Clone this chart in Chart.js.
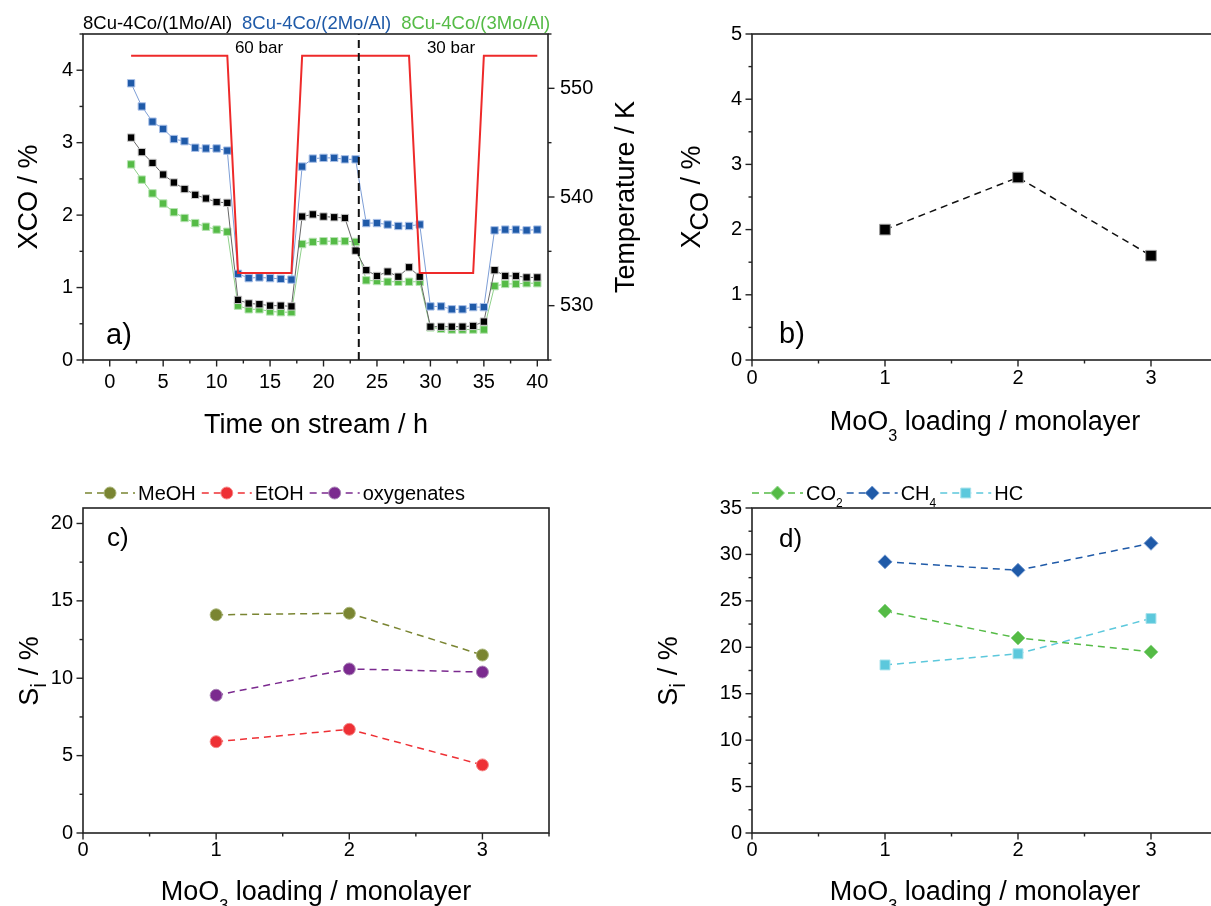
<!DOCTYPE html>
<html>
<head>
<meta charset="utf-8">
<script src="https://cdn.jsdelivr.net/npm/chart.js@4.4.0/dist/chart.umd.min.js"></script>
<style>
html, body { margin:0; padding:0; background:#fff; overflow:hidden; width:1211px; height:906px; position:relative; }
canvas { position:absolute; }
</style>
</head>
<body>
<canvas id="chartA" width="650" height="453" style="left:0;top:0"></canvas>
<canvas id="chartB" width="600" height="453" style="left:640px;top:0"></canvas>
<canvas id="chartC" width="640" height="453" style="left:0;top:453px"></canvas>
<canvas id="chartD" width="600" height="453" style="left:640px;top:453px"></canvas>
<script>
/*********************** data ***********************/
// a) conversion vs time on stream
const timeH = [2,3,4,5,6,7,8,9,10,11, 12,13,14,15,16,17, 18,19,20,21,22,23, 24,25,26,27,28,29, 30,31,32,33,34,35, 36,37,38,39,40];
const xco1Mo = [3.07,2.87,2.72,2.56,2.45,2.36,2.28,2.23,2.18,2.17, 0.83,0.78,0.77,0.75,0.75,0.74, 1.98,2.01,1.98,1.97,1.96,1.51, 1.24,1.16,1.22,1.15,1.28,1.15, 0.46,0.46,0.46,0.46,0.47,0.53, 1.24,1.16,1.16,1.14,1.14];
const xco2Mo = [3.82,3.50,3.29,3.19,3.05,3.02,2.93,2.92,2.92,2.89, 1.19,1.13,1.14,1.13,1.12,1.11, 2.67,2.78,2.79,2.79,2.77,2.77, 1.89,1.89,1.87,1.85,1.85,1.87, 0.74,0.74,0.70,0.70,0.73,0.73, 1.79,1.80,1.80,1.79,1.80];
const xco3Mo = [2.70,2.49,2.30,2.16,2.04,1.96,1.89,1.84,1.80,1.77, 0.75,0.70,0.70,0.67,0.66,0.66, 1.60,1.63,1.64,1.64,1.64,1.63, 1.10,1.09,1.08,1.08,1.08,1.08, 0.45,0.43,0.42,0.42,0.42,0.42, 1.02,1.05,1.05,1.06,1.06];
const tempTime = [2,11,12,17,18,28,29,34,35,40];
const tempK = [553,553,533,533,553,553,533,533,553,553];
const pressureSwitchH = 23.3;   // 60 bar -> 30 bar
const timeTicks = [0,5,10,15,20,25,30,35,40];
const xcoTicksA = [0,1,2,3,4];
const tempTicks = [530,540,550];

// b) - d) vs MoO3 loading
const moLoading = [1,2,3];
const loadingTicks = [0,1,2,3];
const xcoLoading = [2.0,2.8,1.6];
const xcoTicksB = [0,1,2,3,4,5];
const selMeOH = [14.1,14.2,11.5];
const selEtOH = [5.9,6.7,4.4];
const selOxy = [8.9,10.6,10.4];
const selTicksC = [0,5,10,15,20];
const selCO2 = [23.9,21.0,19.5];
const selCH4 = [29.2,28.3,31.2];
const selHC = [18.1,19.3,23.1];
const selTicksD = [0,5,10,15,20,25,30,35];

/*********************** helpers ***********************/
const FONT = "'Liberation Sans', Arial, Helvetica, sans-serif";
Chart.defaults.font.family = FONT;
Chart.defaults.color = '#000';

const pts = (xs, ys) => xs.map((x, i) => ({x: x, y: ys[i]}));
const splitSub = s => {
  const m = s.match(/^(.*?[A-Za-z])(\d+)$/);
  return m ? [{t: m[1]}, {t: m[2], sub: true}] : [{t: s}];
};

// draws text made of parts (some subscripted); y = middle of capitals
function drawParts(ctx, parts, x, y, o) {
  const size = o.size, subScale = o.subScale || 0.7, subShift = o.subShift || 0.3;
  ctx.save();
  ctx.translate(x, y);
  if (o.rotate) ctx.rotate(-Math.PI / 2);
  ctx.fillStyle = o.color || '#000';
  ctx.textBaseline = 'alphabetic';
  ctx.textAlign = 'left';
  const fnt = p => (p.sub ? size * subScale : size) + 'px ' + FONT;
  let total = 0;
  parts.forEach(p => { ctx.font = fnt(p); total += ctx.measureText(p.t).width; });
  let cx = o.align === 'left' ? 0 : -total / 2;
  const base = size * 0.36;
  parts.forEach(p => {
    ctx.font = fnt(p);
    ctx.fillText(p.t, cx, base + (p.sub ? size * subShift : 0));
    cx += ctx.measureText(p.t).width;
  });
  ctx.restore();
  return x + total;
}

const textPlugin = {
  id: 'texts',
  afterDraw(chart, args, opts) {
    (opts.items || []).forEach(it => drawParts(chart.ctx, it.parts, it.x, it.y, it));
  }
};

// box + outward major/minor tick marks
const frame = {
  id: 'frame',
  afterDatasetsDraw(chart, args, opts) {
    const ctx = chart.ctx, a = chart.chartArea;
    ctx.save();
    ctx.strokeStyle = '#222';
    ctx.lineWidth = 1.6;
    ctx.strokeRect(a.left, a.top, a.right - a.left, a.bottom - a.top);
    ctx.lineWidth = 1.4;
    (opts.axes || []).forEach(ax => {
      const s = chart.scales[ax.id];
      const majors = s.ticks.map(t => t.value);
      for (let v = Math.ceil(s.min / ax.minor - 1e-9) * ax.minor; v <= s.max + 1e-9; v += ax.minor) {
        const major = majors.some(m => Math.abs(m - v) < 1e-6);
        const len = major ? 6.5 : 3.5;
        const p = s.getPixelForValue(v);
        ctx.beginPath();
        if (s.position === 'bottom') { ctx.moveTo(p, a.bottom); ctx.lineTo(p, a.bottom + len); }
        else if (s.position === 'left') { ctx.moveTo(a.left, p); ctx.lineTo(a.left - len, p); }
        else { ctx.moveTo(a.right, p); ctx.lineTo(a.right + len, p); }
        ctx.stroke();
      }
    });
    ctx.restore();
  }
};

// legend drawn as "- -o- - label" or text only
const lineLegend = {
  id: 'lineLegend',
  afterDraw(chart, args, opts) {
    if (!opts.show) return;
    const ctx = chart.ctx;
    let x = opts.x;
    chart.data.datasets.forEach(ds => {
      if (!ds.label) return;
      if (opts.textOnly) {
        x = drawParts(ctx, [{t: ds.label}], x, opts.y, {size: opts.size, align: 'left', color: ds.pointBackgroundColor}) + opts.gap;
        return;
      }
      ctx.save();
      ctx.strokeStyle = ds.borderColor;
      ctx.lineWidth = ds.borderWidth;
      ctx.setLineDash(ds.borderDash || []);
      ctx.beginPath();
      ctx.moveTo(x, opts.y);
      ctx.lineTo(x + opts.lineLen, opts.y);
      ctx.stroke();
      ctx.setLineDash([]);
      ctx.fillStyle = ds.pointBackgroundColor;
      ctx.strokeStyle = ds.pointBorderColor;
      ctx.lineWidth = ds.pointBorderWidth || 0;
      Chart.helpers.drawPoint(ctx, {pointStyle: ds.pointStyle, radius: ds.pointRadius, rotation: 0, borderWidth: ds.pointBorderWidth || 0}, x + opts.lineLen / 2, opts.y);
      ctx.restore();
      x += opts.lineLen + 3;
      x = drawParts(ctx, splitSub(ds.label), x, opts.y, {size: opts.size, align: 'left', subShift: 0.35, subScale: 0.6}) + opts.gap;
    });
  }
};

Chart.register(textPlugin, frame, lineLegend);

const setTicks = list => s => { s.ticks = list.map(v => ({value: v})); };
const fixW = w => s => { s.width = w; };
const fixH = h => s => { s.height = h; };
const noGrid = {display: false, drawTicks: false};
const noBorder = {display: false};
const tickFont = {size: 20};

/*********************** a) ***********************/
new Chart(document.getElementById('chartA'), {
  type: 'line',
  data: {
    datasets: [{
      label: '8Cu-4Co/(1Mo/Al)',
      data: pts(timeH, xco1Mo),
      borderColor: '#666', borderWidth: 1,
      pointStyle: 'rect', pointRadius: 5.2,
      pointBackgroundColor: '#000', pointBorderColor: '#ccc', pointBorderWidth: 1,
      yAxisID: 'y', order: 3
    }, {
      label: '8Cu-4Co/(2Mo/Al)',
      data: pts(timeH, xco2Mo),
      borderColor: '#7d9ed6', borderWidth: 1,
      pointStyle: 'rect', pointRadius: 5.2,
      pointBackgroundColor: '#1f5aa8', pointBorderColor: '#a9c0e8', pointBorderWidth: 1,
      yAxisID: 'y', order: 2
    }, {
      label: '8Cu-4Co/(3Mo/Al)',
      data: pts(timeH, xco3Mo),
      borderColor: '#8fd18a', borderWidth: 1,
      pointStyle: 'rect', pointRadius: 5.2,
      pointBackgroundColor: '#55bb46', pointBorderColor: '#b5e3b1', pointBorderWidth: 1,
      yAxisID: 'y', order: 4
    }, {
      data: pts(tempTime, tempK),
      borderColor: '#ee2a2a', borderWidth: 2, pointRadius: 0,
      yAxisID: 'y2', order: 1
    }, {
      data: [{x: pressureSwitchH, y: 0}, {x: pressureSwitchH, y: 4.5}],
      borderColor: '#111', borderWidth: 2, borderDash: [8, 5], pointRadius: 0,
      yAxisID: 'y', order: 0
    }]
  },
  options: {
    responsive: false, animation: false,
    layout: {padding: {top: 34, left: 0, right: 0, bottom: 0}},
    scales: {
      x: {type: 'linear', min: -2.5, max: 41, grid: noGrid, border: noBorder,
          afterBuildTicks: setTicks(timeTicks), afterFit: fixH(453 - 360),
          ticks: {font: tickFont, padding: 10, maxRotation: 0}},
      y: {type: 'linear', position: 'left', min: 0, max: 4.5, grid: noGrid, border: noBorder,
          afterBuildTicks: setTicks(xcoTicksA), afterFit: fixW(83),
          ticks: {font: tickFont, padding: 10}},
      y2: {type: 'linear', position: 'right', min: 525, max: 555, grid: noGrid, border: noBorder,
          afterBuildTicks: setTicks(tempTicks), afterFit: fixW(650 - 548),
          ticks: {font: tickFont, padding: 12}}
    },
    plugins: {
      legend: {display: false}, tooltip: {enabled: false},
      lineLegend: {show: true, textOnly: true, x: 83, y: 22, size: 18.5, gap: 10},
      frame: {axes: [{id: 'x', minor: 2.5}, {id: 'y', minor: 0.5}, {id: 'y2', minor: 5}]},
      texts: {items: [
        {parts: [{t: '60 bar'}], x: 259, y: 47, size: 17},
        {parts: [{t: '30 bar'}], x: 451, y: 47, size: 17},
        {parts: [{t: 'a)'}], x: 106, y: 334, size: 29, align: 'left'},
        {parts: [{t: 'XCO / %'}], x: 27, y: 197, size: 27, rotate: true},
        {parts: [{t: 'Temperature / K'}], x: 624, y: 197, size: 27, rotate: true},
        {parts: [{t: 'Time on stream / h'}], x: 316, y: 423, size: 27}
      ]}
    }
  }
});

/*********************** b) ***********************/
const dashBlack = {borderColor: '#111', borderWidth: 1.5, borderDash: [7, 5]};
new Chart(document.getElementById('chartB'), {
  type: 'line',
  data: {
    datasets: [Object.assign({
      data: pts(moLoading, xcoLoading),
      pointStyle: 'rect', pointRadius: 7.5,
      pointBackgroundColor: '#000', pointBorderColor: '#999', pointBorderWidth: 1
    }, dashBlack)]
  },
  options: {
    responsive: false, animation: false,
    layout: {padding: {top: 34, left: 0, right: 600 - 577.5, bottom: 0}},
    scales: {
      x: {type: 'linear', min: 0, max: 3.5, grid: noGrid, border: noBorder,
          afterBuildTicks: setTicks(loadingTicks), afterFit: fixH(453 - 360),
          ticks: {font: tickFont, padding: 6, maxRotation: 0}},
      y: {type: 'linear', min: 0, max: 5, grid: noGrid, border: noBorder,
          afterBuildTicks: setTicks(xcoTicksB), afterFit: fixW(112),
          ticks: {font: tickFont, padding: 10}}
    },
    plugins: {
      legend: {display: false}, tooltip: {enabled: false},
      frame: {axes: [{id: 'x', minor: 0.5}, {id: 'y', minor: 0.5}]},
      texts: {items: [
        {parts: [{t: 'b)'}], x: 139, y: 333, size: 29, align: 'left'},
        {parts: [{t: 'X'}, {t: 'CO', sub: true}, {t: ' / %'}], x: 50, y: 197, size: 27, rotate: true, subScale: 0.95, subShift: 0.3},
        {parts: [{t: 'MoO'}, {t: '3', sub: true}, {t: ' loading / monolayer'}], x: 345, y: 420, size: 27, subScale: 0.6, subShift: 0.4}
      ]}
    }
  }
});

/*********************** c) ***********************/
const dashed = {borderWidth: 1.5, borderDash: [7, 5], pointRadius: 6, pointBorderWidth: 1};
new Chart(document.getElementById('chartC'), {
  type: 'line',
  data: {
    datasets: [
      Object.assign({label: 'MeOH', data: pts(moLoading, selMeOH), borderColor: '#7a8532', pointBackgroundColor: '#7a8532', pointBorderColor: '#a9b57a', pointStyle: 'circle'}, dashed),
      Object.assign({label: 'EtOH', data: pts(moLoading, selEtOH), borderColor: '#ee3035', pointBackgroundColor: '#ee3035', pointBorderColor: '#f58a8a', pointStyle: 'circle'}, dashed),
      Object.assign({label: 'oxygenates', data: pts(moLoading, selOxy), borderColor: '#7b2a8f', pointBackgroundColor: '#7b2a8f', pointBorderColor: '#a985b6', pointStyle: 'circle'}, dashed)
    ]
  },
  options: {
    responsive: false, animation: false,
    layout: {padding: {top: 55, left: 0, right: 640 - 549, bottom: 0}},
    scales: {
      x: {type: 'linear', min: 0, max: 3.5, grid: noGrid, border: noBorder,
          afterBuildTicks: setTicks(loadingTicks), afterFit: fixH(453 - 380),
          ticks: {font: tickFont, padding: 5, maxRotation: 0}},
      y: {type: 'linear', min: 0, max: 21, grid: noGrid, border: noBorder,
          afterBuildTicks: setTicks(selTicksC), afterFit: fixW(83),
          ticks: {font: tickFont, padding: 10}}
    },
    plugins: {
      legend: {display: false}, tooltip: {enabled: false},
      lineLegend: {show: true, x: 85, y: 40, size: 20, lineLen: 50, gap: 6},
      frame: {axes: [{id: 'x', minor: 0.5}, {id: 'y', minor: 2.5}]},
      texts: {items: [
        {parts: [{t: 'c)'}], x: 107, y: 84, size: 26, align: 'left'},
        {parts: [{t: 'S'}, {t: 'i', sub: true}, {t: ' / %'}], x: 28, y: 218, size: 27, rotate: true, subScale: 0.8, subShift: 0.3},
        {parts: [{t: 'MoO'}, {t: '3', sub: true}, {t: ' loading / monolayer'}], x: 316, y: 437, size: 27, subScale: 0.6, subShift: 0.4}
      ]}
    }
  }
});

/*********************** d) ***********************/
new Chart(document.getElementById('chartD'), {
  type: 'line',
  data: {
    datasets: [
      Object.assign({label: 'CO2', data: pts(moLoading, selCO2), borderColor: '#55bb46', pointBackgroundColor: '#55bb46', pointBorderColor: '#93d68e', pointStyle: 'rectRot'}, dashed, {pointRadius: 7}),
      Object.assign({label: 'CH4', data: pts(moLoading, selCH4), borderColor: '#1f5aa8', pointBackgroundColor: '#1f5aa8', pointBorderColor: '#7b9fd2', pointStyle: 'rectRot'}, dashed, {pointRadius: 7}),
      Object.assign({label: 'HC', data: pts(moLoading, selHC), borderColor: '#5cc8dc', pointBackgroundColor: '#5cc8dc', pointBorderColor: '#a6e2ec', pointStyle: 'rect'}, dashed, {pointRadius: 7})
    ]
  },
  options: {
    responsive: false, animation: false,
    layout: {padding: {top: 55, left: 0, right: 600 - 577.5, bottom: 0}},
    scales: {
      x: {type: 'linear', min: 0, max: 3.5, grid: noGrid, border: noBorder,
          afterBuildTicks: setTicks(loadingTicks), afterFit: fixH(453 - 380),
          ticks: {font: tickFont, padding: 5, maxRotation: 0}},
      y: {type: 'linear', min: 0, max: 35, grid: noGrid, border: noBorder,
          afterBuildTicks: setTicks(selTicksD), afterFit: fixW(112),
          ticks: {font: tickFont, padding: 10}}
    },
    plugins: {
      legend: {display: false}, tooltip: {enabled: false},
      lineLegend: {show: true, x: 112, y: 40, size: 20, lineLen: 51, gap: 4},
      frame: {axes: [{id: 'x', minor: 0.5}, {id: 'y', minor: 2.5}]},
      texts: {items: [
        {parts: [{t: 'd)'}], x: 139, y: 85, size: 26, align: 'left'},
        {parts: [{t: 'S'}, {t: 'i', sub: true}, {t: ' / %'}], x: 27, y: 218, size: 27, rotate: true, subScale: 0.8, subShift: 0.3},
        {parts: [{t: 'MoO'}, {t: '3', sub: true}, {t: ' loading / monolayer'}], x: 345, y: 437, size: 27, subScale: 0.6, subShift: 0.4}
      ]}
    }
  }
});
</script>
</body>
</html>
